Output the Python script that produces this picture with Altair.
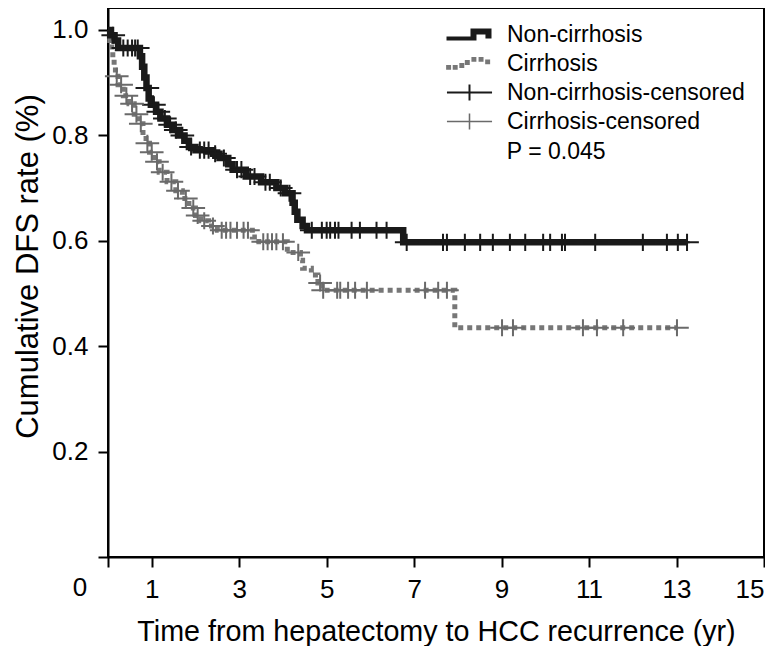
import altair as alt
import pandas as pd

# ---------------- data ----------------
legend_labels = ["Non-cirrhosis", "Cirrhosis", "Non-cirrhosis-censored", "Cirrhosis-censored"]

# Kaplan-Meier step points (time in years, survival); last point = end of follow-up
noncirr_t = [0, 0.05, 0.15, 0.23, 0.73, 0.78, 0.83, 0.88, 0.93, 0.98, 1.10, 1.20, 1.35,
             1.50, 1.62, 1.75, 1.85, 2.00, 2.40, 2.55, 2.75, 2.85, 3.15, 3.50, 3.85,
             4.05, 4.22, 4.27, 4.33, 4.45, 4.55, 6.75, 13.24]
noncirr_s = [1.0, 0.99, 0.98, 0.966, 0.95, 0.93, 0.91, 0.89, 0.87, 0.858, 0.845, 0.832, 0.82,
             0.81, 0.80, 0.79, 0.778, 0.772, 0.765, 0.757, 0.745, 0.735, 0.722, 0.711, 0.70,
             0.69, 0.672, 0.655, 0.64, 0.628, 0.62, 0.597, 0.597]
noncirr_censor_t = [0.12, 0.35, 0.45, 0.55, 0.62, 0.68, 0.90, 1.05, 1.15, 1.30, 1.42, 1.55,
                    1.70, 1.90, 2.10, 2.20, 2.30, 2.45, 2.65, 2.95, 3.05, 3.25, 3.35, 3.60,
                    3.70, 3.95, 4.15, 4.66, 4.89, 5.00, 5.08, 5.19, 5.27, 5.57, 5.76, 6.14,
                    6.37, 6.83, 7.66, 7.75, 8.16, 8.51, 8.80, 9.19, 9.54, 9.95, 10.11, 10.38,
                    10.45, 11.14, 12.23, 12.78, 13.03, 13.24]

cirr_t = [0, 0.04, 0.08, 0.11, 0.14, 0.17, 0.23, 0.35, 0.48, 0.60, 0.70, 0.80, 0.87, 0.95,
          1.05, 1.17, 1.35, 1.55, 1.70, 1.85, 2.00, 2.12, 2.30, 2.50, 3.30, 3.45, 4.10,
          4.40, 4.45, 4.65, 4.80, 4.90, 7.93, 13.01]
cirr_s = [1.0, 0.98, 0.962, 0.947, 0.93, 0.912, 0.896, 0.875, 0.86, 0.84, 0.822, 0.80, 0.785,
          0.768, 0.75, 0.73, 0.712, 0.695, 0.68, 0.662, 0.648, 0.638, 0.628, 0.62, 0.607,
          0.598, 0.578, 0.563, 0.548, 0.535, 0.52, 0.506, 0.435, 0.435]
cirr_censor_t = [0.20, 0.30, 0.42, 0.55, 0.65, 0.75, 0.90, 1.00, 1.12, 1.25, 1.45, 1.60, 1.78,
                 1.95, 2.05, 2.20, 2.40, 2.60, 2.70, 2.80, 2.95, 3.10, 3.20, 3.55, 3.65, 3.75,
                 3.85, 4.00, 4.35, 4.85, 4.92, 5.24, 5.31, 5.49, 5.65, 5.92, 7.25, 7.55, 7.75,
                 9.01, 9.26, 10.86, 11.18, 11.78, 13.01]

x_ticks = [0, 1, 3, 5, 7, 9, 11, 13, 15]
y_ticks = [0, 0.2, 0.4, 0.6, 0.8, 1.0]
p_text = "P = 0.045"
p_pos = (9.12, 0.768)

# ---------------- helpers ----------------
def surv_at(ts, ss, t):
    idx = 0
    for i, v in enumerate(ts):
        if v <= t:
            idx = i
    return ss[idx]

df_nc = pd.DataFrame({"t": noncirr_t, "S": noncirr_s})
df_c = pd.DataFrame({"t": cirr_t, "S": cirr_s})
cen_nc = pd.DataFrame({"t": noncirr_censor_t,
                       "S": [surv_at(noncirr_t, noncirr_s, t) for t in noncirr_censor_t]})
cen_c = pd.DataFrame({"t": cirr_censor_t,
                      "S": [surv_at(cirr_t, cirr_s, t) for t in cirr_censor_t]})

FONT = "Liberation Sans"
BLACK = "#1a1a1a"
GRAY = "#777777"
GRAY2 = "#6a6a6a"

xscale = alt.Scale(domain=[0, 15], nice=False, zero=False)
yscale = alt.Scale(domain=[0, 1.0417], nice=False)

xaxis = alt.Axis(values=x_ticks, labelExpr="datum.value == 0 ? '' : datum.label",
                 title="Time from hepatectomy to HCC recurrence (yr)", titleFontSize=28.7,
                 titlePadding=15, labelPadding=9)
yaxis = alt.Axis(values=y_ticks, format=".1f",
                 labelExpr="datum.value == 0 ? '' : format(datum.value, '.1f')",
                 title="Cumulative DFS rate (%)", titleFontSize=31, titlePadding=7,
                 titleY=258, labelPadding=10)

X = alt.X("t:Q", scale=xscale, axis=xaxis)
Y = alt.Y("S:Q", scale=yscale, axis=yaxis)

line_nc = alt.Chart(df_nc).mark_line(interpolate="step-after", color=BLACK,
                                     strokeWidth=6.5, strokeCap="butt").encode(x=X, y=Y)
line_c = alt.Chart(df_c).mark_line(interpolate="step-after", color=GRAY, strokeWidth=5,
                                   strokeDash=[5, 4], strokeCap="butt").encode(x=X, y=Y)

cross_path = "M-1,0H1M0,-0.72V0.72"
pts_nc = alt.Chart(cen_nc).mark_point(shape=cross_path, size=560, filled=False,
                                      strokeWidth=2, color=BLACK, opacity=1).encode(x=X, y=Y)
pts_c = alt.Chart(cen_c).mark_point(shape=cross_path, size=560, filled=False,
                                    strokeWidth=2, color=GRAY2, opacity=1).encode(x=X, y=Y)

# origin label "0" shared by both axes
zero_lbl = alt.Chart(pd.DataFrame({"t": [0], "S": [0], "txt": ["0"]})).mark_text(
    font=FONT, fontSize=26, color="black", dx=-28, dy=31, baseline="middle", align="center"
).encode(x=X, y=Y, text="txt:N")

p_lbl = alt.Chart(pd.DataFrame({"t": [p_pos[0]], "S": [p_pos[1]], "txt": [p_text]})).mark_text(
    font=FONT, fontSize=23, color="black", align="left", baseline="middle"
).encode(x=X, y=Y, text="txt:N")

# legend symbols drawn as filled outlines (unit = 5.5 px)
def rect(x0, x1, y0, y1):
    return f"M{x0},{y0}H{x1}V{y1}H{x0}Z"

step_solid = " ".join([rect(-4.18, 0.55, 0.36, 1.09), rect(0.18, 1.27, -1.09, 1.09),
                       rect(0.18, 4.0, -1.09, 0.0), rect(2.9, 4.0, -1.09, 0.73)])
dots = [(-3.8, 0.7), (-2.6, 0.7), (-1.4, 0.35), (-0.4, -0.2), (0.8, -0.75), (2.1, -0.75),
        (3.3, -0.3)]
step_dotted = " ".join(rect(x - 0.45, x + 0.45, y - 0.45, y + 0.45) for x, y in dots)
cens_thick = " ".join([rect(-4.1, 4.1, -0.18, 0.18), rect(-0.18, 0.18, -1.45, 1.45)])
cens_thin = " ".join([rect(-4.1, 4.1, -0.14, 0.14), rect(-0.14, 0.14, -1.45, 1.45)])

leg_df = pd.DataFrame({"legend": legend_labels})
legend_layer = alt.Chart(leg_df).transform_filter("false").mark_point(
    filled=True, opacity=1, strokeWidth=0
).encode(
    color=alt.Color("legend:N", title=None,
                    scale=alt.Scale(domain=legend_labels, range=[BLACK, GRAY, BLACK, GRAY2]),
                    legend=alt.Legend(orient="none", legendX=350, legendY=15, padding=0,
                                      labelFont=FONT, labelFontSize=23, labelColor="black",
                                      labelLimit=400, labelOffset=26, rowPadding=5,
                                      symbolSize=121, symbolStrokeWidth=0)),
    shape=alt.Shape("legend:N", title=None,
                    scale=alt.Scale(domain=legend_labels,
                                    range=[step_solid, step_dotted, cens_thick, cens_thin])),
)

chart = alt.layer(line_c, line_nc, pts_nc, pts_c, zero_lbl, p_lbl, legend_layer).properties(
    width=656, height=549, padding={"left": 4, "top": 0, "right": 0, "bottom": 0}
).configure_view(
    stroke="black", strokeWidth=2
).configure_axis(
    grid=False, domainColor="black", domainWidth=2, tickColor="black", tickWidth=2,
    tickSize=10, labelFont=FONT, labelFontSize=26, labelColor="black",
    titleFont=FONT, titleFontWeight="normal", titleColor="black"
)

chart.save("out.html", embed_options={"renderer": "svg", "actions": False})
